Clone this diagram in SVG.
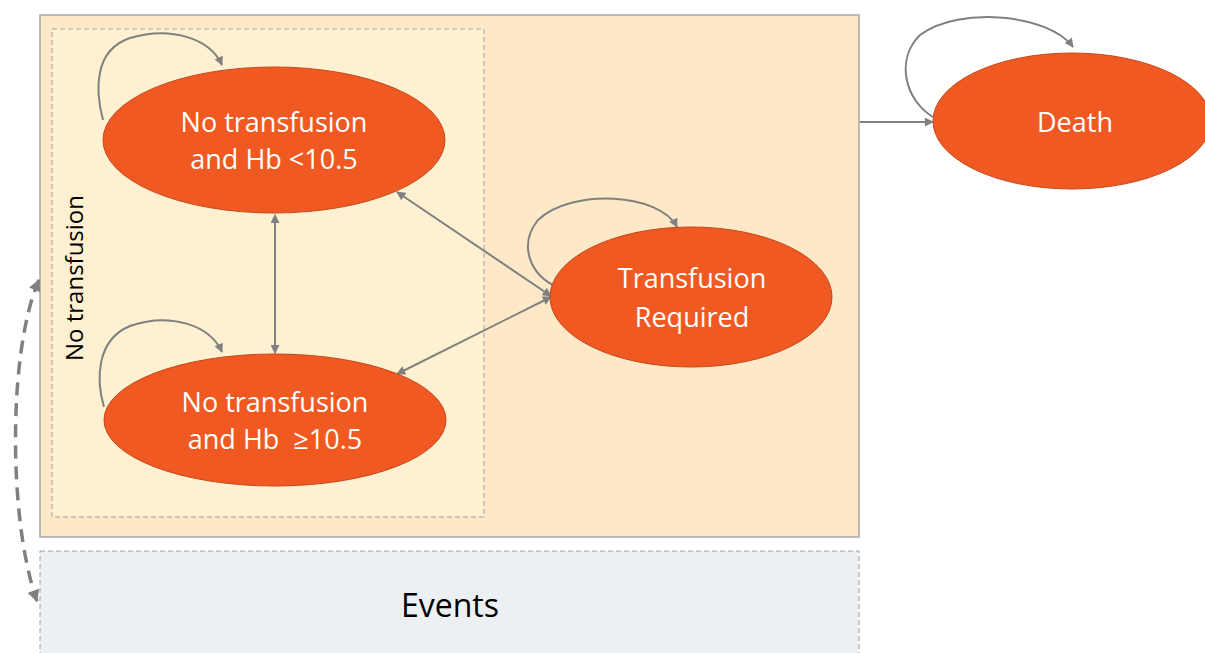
<svg xmlns="http://www.w3.org/2000/svg" width="1205" height="653" viewBox="0 0 1205 653">
  <style>
    .state { fill: #F05A22; stroke: #C4481C; stroke-width: 1; }
    .state-label { font-family: "Open Sans", "Liberation Sans", sans-serif; font-size: 27px; fill: #FFFFFF; text-anchor: middle; }
    .edge { fill: none; stroke: #808080; stroke-width: 2; }
    .edge-dashed { fill: none; stroke: #808080; stroke-width: 3.5; stroke-dasharray: 13 8; }
    .region-label { font-family: "Open Sans", "Liberation Sans", sans-serif; fill: #000000; }
  </style>
  <defs>
    <marker id="arrow" viewBox="0 0 10 10" refX="9" refY="5" markerWidth="10" markerHeight="9" markerUnits="userSpaceOnUse" orient="auto-start-reverse">
      <path d="M0,0 L10,5 L0,10 z" fill="#808080"/>
    </marker>
    <marker id="arrow-big" viewBox="0 0 10 10" refX="9" refY="5" markerWidth="13" markerHeight="12" markerUnits="userSpaceOnUse" orient="auto-start-reverse">
      <path d="M0,0 L10,5 L0,10 z" fill="#808080"/>
    </marker>
  </defs>

  <!-- background -->
  <rect x="0" y="0" width="1205" height="653" fill="#FFFFFF"/>

  <!-- alive states container -->
  <g id="alive-region">
    <rect x="40" y="15" width="819" height="522" fill="#FDE9C8" stroke="#A6A6A6" stroke-width="1.5"/>
  </g>

  <!-- no-transfusion sub-region -->
  <g id="no-transfusion-region">
    <rect x="52" y="29" width="432" height="488" fill="#FEF0D0" stroke="#A0A0A0" stroke-width="1" stroke-dasharray="5 3"/>
    <text class="region-label" font-size="24" transform="translate(83,278) rotate(-90)" text-anchor="middle">No transfusion</text>
  </g>

  <!-- events band -->
  <g id="events">
    <rect x="40" y="551" width="819" height="110" fill="#EDF0F3" stroke="#A0A0A0" stroke-width="1" stroke-dasharray="5 3"/>
    <text class="region-label" font-size="32" x="450" y="617" text-anchor="middle">Events</text>
  </g>

  <!-- connectors -->
  <g id="connectors">
    <!-- self loops -->
    <path class="edge" d="M103,120 C95,90 94,50 130,38 C170,26 210,38 222,65" marker-end="url(#arrow)"/>
    <path class="edge" d="M104,407 C96,380 96,340 130,326 C170,312 210,325 222,352" marker-end="url(#arrow)"/>
    <path class="edge" d="M557,287 C530,275 518,245 538,220 C572,188 660,193 677,227" marker-end="url(#arrow)"/>
    <path class="edge" d="M933,117 C905,100 895,60 920,35 C960,5 1050,15 1073,47" marker-end="url(#arrow)"/>
    <!-- transitions between states -->
    <path class="edge" d="M275,215 L275,353" marker-start="url(#arrow)" marker-end="url(#arrow)"/>
    <path class="edge" d="M397,192 L551,296" marker-start="url(#arrow)" marker-end="url(#arrow)"/>
    <path class="edge" d="M397,374 L551,297" marker-start="url(#arrow)" marker-end="url(#arrow)"/>
    <path class="edge" d="M860,122 L933,122" marker-end="url(#arrow)"/>
    <!-- link between states and events -->
    <path class="edge-dashed" d="M39,280 C8,350 8,520 37,601" marker-start="url(#arrow-big)" marker-end="url(#arrow-big)"/>
  </g>

  <!-- states -->
  <g id="state-hb-low">
    <ellipse class="state" cx="274" cy="140" rx="171" ry="73"/>
    <text class="state-label" x="274" y="132">No transfusion</text>
    <text class="state-label" x="274" y="169">and Hb &lt;10.5</text>
  </g>
  <g id="state-hb-high">
    <ellipse class="state" cx="275" cy="420" rx="171" ry="66"/>
    <text class="state-label" x="275" y="412">No transfusion</text>
    <text class="state-label" x="275" y="449" xml:space="preserve">and Hb&#160; ≥10.5</text>
  </g>
  <g id="state-transfusion">
    <ellipse class="state" cx="691" cy="297" rx="141" ry="70"/>
    <text class="state-label" x="692" y="288">Transfusion</text>
    <text class="state-label" x="692" y="327">Required</text>
  </g>
  <g id="state-death">
    <ellipse class="state" cx="1072" cy="121" rx="139" ry="68"/>
    <text class="state-label" x="1075" y="132">Death</text>
  </g>
</svg>
